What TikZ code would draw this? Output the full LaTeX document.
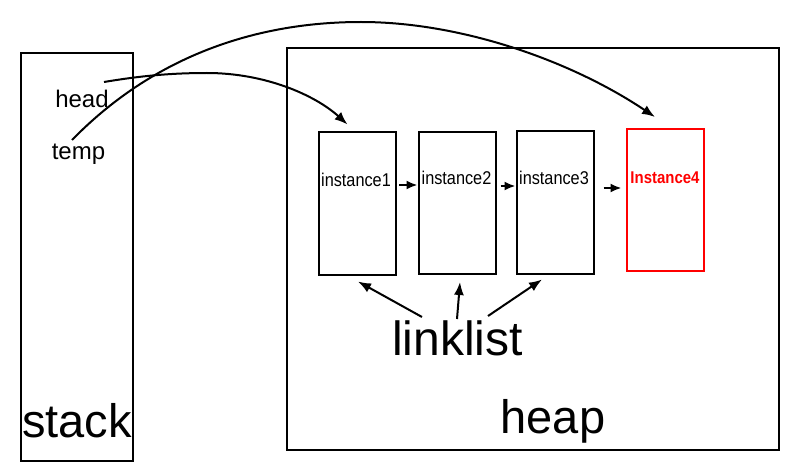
\documentclass[tikz,border=0pt]{standalone}
\usepackage{fontspec}
\setmainfont{Liberation Sans}
\usetikzlibrary{arrows.meta,calc}
\begin{document}
\begin{tikzpicture}[x=1pt,y=-1pt,
  membox/.style={draw,line width=2pt,inner sep=0pt},
  inbox/.style={draw,line width=2pt,inner sep=0pt,minimum width=77pt,minimum height=142pt},
  ilabel/.style={inner sep=0pt,anchor=base,font=\fontsize{18.5}{20}\selectfont},
  vlabel/.style={inner sep=0pt,anchor=base,font=\fontsize{24}{28}\selectfont},
  biglabel/.style={inner sep=0pt,anchor=base,font=\fontsize{47}{52}\selectfont},
  bigarr/.style={line width=2pt,-{Latex[length=13pt,width=10pt]}},
  smallarr/.style={line width=2pt,-{Latex[length=11pt,width=9pt]}}
]
\useasboundingbox (0,0) rectangle (798,476);
\fill[white] (0,0) rectangle (798,476);
% stack and heap
\node[membox,minimum width=112pt,minimum height=408pt] (stack) at (77,257) {};
\node[membox,minimum width=492pt,minimum height=402pt] (heap) at (533,249) {};
\node[biglabel] (stacklbl) at (77,437) {stack};
\node[biglabel] (heaplbl) at (553,433) {heap};
% variables
\node[vlabel] (head) at (82,108) {head};
\node[vlabel] (temp) at (78.5,160) {temp};
% instances
\node[inbox] (i1) at (357.5,203.5) {};
\node[inbox] (i2) at (457,203) {};
\node[inbox] (i3) at (555,202.5) {};
\node[inbox,draw=red] (i4) at (665,200) {};
\node[ilabel] (l1) at (356,186) {\scalebox{0.88}[1]{instance1}};
\node[ilabel] (l2) at (456.5,185) {\scalebox{0.88}[1]{instance2}};
\node[ilabel] (l3) at (554,184) {\scalebox{0.88}[1]{instance3}};
\node[ilabel,text=red,font=\fontsize{17}{20}\selectfont\bfseries] (l4) at (665,183) {\scalebox{0.88}[1]{Instance4}};
% links between instances
\draw[smallarr] (i1.east |- 0,185) ++(2,0) -- (i2.west |- 0,185);
\draw[smallarr] (i2.east |- 0,186) ++(4,0) -- (i3.west |- 0,186);
\draw[smallarr] (i3.east |- 0,188) ++(9,0) -- ($(i4.west |- 0,188)+(-4,0)$);
% linklist
\node[inner sep=0pt,anchor=base,font=\fontsize{48}{52}\selectfont] (ll) at (457.5,355) {linklist};
\coordinate (ll1) at (422,317);
\coordinate (ll2) at (457,319);
\coordinate (ll3) at (488,316);
\draw[bigarr] (ll1) -- ($(i1.south)+(0.5,6)$);
\draw[bigarr] (ll2) -- ($(i2.south)+(3,7)$);
\draw[bigarr] (ll3) -- ($(i3.south)+(-13,5)$);
% pointers
\coordinate (hs) at (104,82);
\coordinate (ts) at (72,140);
\draw[bigarr] (hs) .. controls (140,76) and (170,73) .. (207,73)
  .. controls (265,73) and (315,95) .. ($(i1.north)+(-10,-7)$);
\draw[bigarr] (ts) .. controls (150,60) and (250,22) .. (361,22)
  .. controls (460,22) and (570,60) .. ($(i4.north)+(-10,-11)$);
\end{tikzpicture}
\end{document}
